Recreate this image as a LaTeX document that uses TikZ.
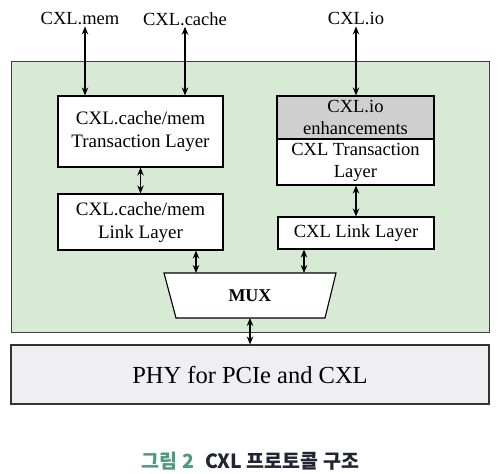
\documentclass[tikz,border=0pt]{standalone}
\usepackage{fontspec}
\setmainfont{Liberation Serif}
\newfontfamily\kr{Noto Sans CJK KR}
\usetikzlibrary{arrows.meta}
\definecolor{bggreen}{HTML}{D7EAD3}
\definecolor{enhgray}{HTML}{CFCFCF}
\definecolor{phygray}{HTML}{EFEFF1}
\definecolor{capteal}{HTML}{4F9A7C}
\definecolor{capnavy}{HTML}{1F2533}
\begin{document}
\begin{tikzpicture}[x=1pt,y=-1pt,
  boxstyle/.style={draw=black,line width=1.1pt,fill=white,inner sep=0pt,align=center},
  biarrow/.style={line width=1.2pt,{Stealth[length=8pt,width=6.5pt]}-{Stealth[length=8pt,width=6.5pt]}},
  txt/.style={font=\fontsize{19}{23}\selectfont}]
\useasboundingbox (0,0) rectangle (499,474);
% green container
\draw[draw=black!75,line width=1pt,fill=bggreen] (11,61) rectangle (489,332);
% left boxes
\node[boxstyle,txt,minimum width=165pt,minimum height=71pt] (tr1) at (140.5,131.5) {CXL.cache/mem\\Transaction Layer};
\node[boxstyle,txt,minimum width=165pt,minimum height=56pt] (lk1) at (140.5,222) {CXL.cache/mem\\Link Layer};
% right boxes
\node[boxstyle,fill=enhgray,minimum width=157pt,minimum height=43pt,font=\fontsize{18.5}{21.5}\selectfont] (enh) at (355.5,117.5) {CXL.io\\enhancements};
\node[boxstyle,minimum width=157pt,minimum height=46pt,font=\fontsize{18.5}{22}\selectfont] (tr2) at (355.5,162) {CXL Transaction\\Layer};
\node[boxstyle,minimum width=156pt,minimum height=32pt,font=\fontsize{18.5}{22}\selectfont] (lk2) at (356,233) {CXL Link Layer};
% MUX
\draw[line width=1.1pt,fill=white] (164,273) -- (336,273) -- (325,318) -- (176,318) -- cycle;
\node[font=\fontsize{18}{20}\selectfont\bfseries] (mux) at (250,296) {MUX};
\coordinate (m1) at (196,273);
\coordinate (m2) at (304,273);
\coordinate (mb) at (250,318);
% PHY
\node[draw=black!80,line width=1.1pt,fill=phygray,minimum width=478pt,minimum height=59pt,inner sep=0pt,font=\fontsize{24.5}{28}\selectfont] (phy) at (250,374.5) {PHY for PCIe and CXL};
% top labels
\node[font=\fontsize{18.5}{22}\selectfont,inner sep=1pt] (mem) at (80,19) {CXL.mem};
\node[font=\fontsize{18.5}{22}\selectfont,inner sep=1pt] (cache) at (185,19) {CXL.cache};
\node[font=\fontsize{18.5}{22}\selectfont,inner sep=1pt] (io) at (356,19) {CXL.io};
\coordinate (memx) at (85,0);
% arrows
\draw[biarrow] (memx |- mem.south) -- (memx |- tr1.north);
\draw[biarrow] (cache.south) -- (cache.south |- tr1.north);
\draw[biarrow] (io.south) -- (io.south |- enh.north);
\draw[biarrow] (tr1.south) -- (lk1.north);
\draw[biarrow] (tr2.south -| lk2.north) -- (lk2.north);
\draw[biarrow] (m1 |- lk1.south) -- (m1);
\draw[biarrow] (m2 |- lk2.south) -- (m2);
\draw[biarrow] (mb) -- (mb |- phy.north);
% caption
\node[font=\kr\bfseries\fontsize{19.5}{22}\selectfont] (cap) at (250.5,461) {\textcolor{capteal}{그림 2}\hspace{11pt}\textcolor{capnavy}{CXL 프로토콜 구조}};
\end{tikzpicture}
\end{document}
